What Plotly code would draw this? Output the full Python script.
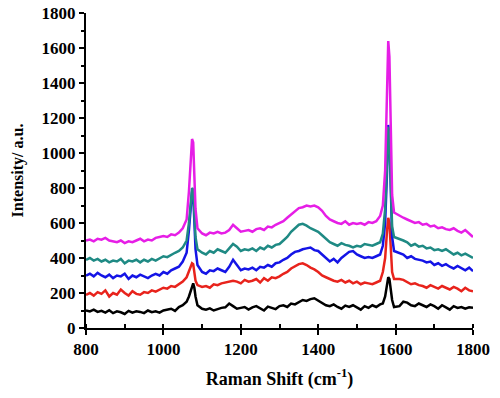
import plotly.graph_objects as go

# Raman shift sample positions (cm^-1)
x_shift = (list(range(800, 1061, 10))
           + [1066, 1071, 1074, 1077, 1080, 1083, 1088]
           + list(range(1100, 1561, 10))
           + [1567, 1573, 1578, 1581, 1584, 1587, 1591, 1596]
           + list(range(1610, 1801, 10)))

black_vals = ([100,95,105,92,98,88,102,85,95,90,80,98,88,95,92,85,100,90,95,88,100,105,110,98,120,130,150]
              + [180,215,245,255,230,180,130]
              + [110,105,112,100,108,115,118,140,125,110,
                 115,120,105,118,125,110,100,122,115,108,
                 125,130,120,140,135,150,160,155,165,170,
                 155,145,130,125,135,120,110,128,120,130,
                 118,105,125,115,130,120,135]
              + [140,180,250,290,280,220,160,120]
              + [125,150,145,130,125,140,128,120,135,125,110,130,118,105,125,115,120,110,118,115])

red_vals = ([190,200,185,205,195,215,180,200,190,220,200,185,210,195,190,205,200,215,208,220,230,225,240,235,250,265,290]
            + [320,355,370,365,320,270,245]
            + [235,240,230,250,245,255,260,265,270,265,
               255,275,265,270,280,260,285,270,290,285,
               295,310,320,340,355,365,370,360,345,335,
               320,300,290,280,270,265,275,260,270,255,
               265,250,260,255,250,260,270]
            + [320,400,560,630,600,450,320,280]
            + [280,275,260,250,255,245,240,230,245,235,225,240,230,220,235,225,210,230,215,210])

blue_vals = ([300,310,295,315,300,290,305,285,300,295,310,280,300,290,305,295,285,300,310,300,320,310,330,340,350,380,430]
             + [560,700,780,770,640,450,360]
             + [320,310,330,325,340,330,320,350,390,360,
                330,340,335,345,330,350,345,360,350,370,
                375,390,400,420,435,440,450,455,460,445,
                440,420,400,380,395,375,400,420,435,440,
                420,410,400,405,400,410,420]
             + [470,600,900,1160,1100,780,520,440]
             + [430,420,400,410,395,390,385,375,380,360,370,355,365,350,340,355,340,330,345,325])

teal_vals = ([390,400,385,395,380,390,375,385,380,395,370,385,380,390,375,390,380,395,385,400,410,405,420,430,440,460,500]
             + [600,720,800,790,680,520,450]
             + [430,420,440,430,450,440,430,455,480,465,
                440,450,445,455,440,460,450,470,460,475,
                480,500,520,550,570,590,595,585,570,560,
                550,530,510,490,480,470,485,475,470,460,
                470,465,480,475,470,480,490]
             + [540,680,950,1150,1080,800,580,520]
             + [510,500,490,470,480,465,470,455,460,445,450,440,450,435,420,430,415,425,410,400])

magenta_vals = ([500,505,495,510,505,515,500,495,490,500,485,495,490,500,510,495,505,500,515,520,525,520,535,530,545,570,620]
                + [780,960,1080,1060,900,680,570]
                + [540,530,545,540,550,540,545,560,590,570,
                   550,555,560,550,565,570,560,580,575,590,
                   600,610,630,650,670,685,690,700,695,700,
                   690,670,640,620,610,600,595,610,590,600,
                   595,600,590,605,600,610,640]
                + [700,900,1300,1640,1550,1100,760,660]
                + [640,630,620,610,600,605,590,595,580,585,570,575,565,560,570,555,545,560,540,520])

series = [
    ("black", black_vals, "#000000"),
    ("red", red_vals, "#e8231c"),
    ("blue", blue_vals, "#1414e6"),
    ("teal", teal_vals, "#1f8a84"),
    ("magenta", magenta_vals, "#e61ee6"),
]

x_ticks = [800, 1000, 1200, 1400, 1600, 1800]
y_ticks = [0, 200, 400, 600, 800, 1000, 1200, 1400, 1600, 1800]

fig = go.Figure()
for name, vals, col in series:
    fig.add_trace(go.Scatter(x=x_shift, y=vals, mode="lines", name=name,
                             line=dict(color=col, width=2.5), showlegend=False))

font_family = "Liberation Serif"
fig.update_layout(
    width=500, height=398,
    margin=dict(l=86, r=27, t=13, b=70, autoexpand=False),
    plot_bgcolor="white", paper_bgcolor="white",
    font=dict(family=font_family, color="black"),
)
fig.update_xaxes(
    range=[800, 1800], tickvals=x_ticks, showgrid=False, zeroline=False,
    showline=True, linecolor="black", linewidth=2, automargin=False,
    ticks="outside", ticklen=5, tickwidth=2, tickcolor="black",
    minor=dict(dtick=100, ticks="inside", ticklen=4, tickwidth=2, tickcolor="black", showgrid=False),
    tickfont=dict(size=17, family=font_family, weight="bold"),
    title=dict(text="Raman Shift (cm<sup>-1</sup>)", font=dict(size=18, family=font_family, weight="bold"), standoff=14),
)
fig.update_yaxes(
    range=[0, 1800], tickvals=y_ticks, showgrid=False, zeroline=False,
    showline=True, linecolor="black", linewidth=2, automargin=False,
    ticks="outside", ticklen=5, tickwidth=2, tickcolor="black",
    minor=dict(dtick=100, ticks="outside", ticklen=3, tickwidth=2, tickcolor="black", showgrid=False),
    tickfont=dict(size=17, family=font_family, weight="bold"),
    title=dict(text="Intensity/ a.u.", font=dict(size=16, family=font_family, weight="bold"), standoff=14),
)

fig.write_html("out.html", config={"displayModeBar": False},
               post_script="document.body.style.margin='0';")
